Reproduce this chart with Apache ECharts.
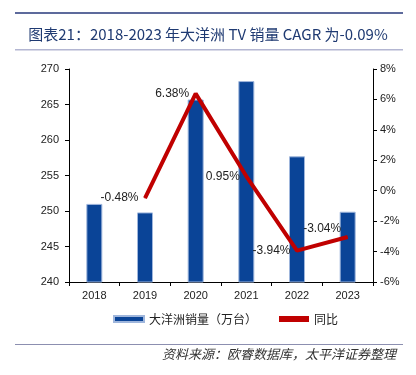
<!DOCTYPE html>
<html>
<head>
<meta charset="utf-8">
<script src="https://cdn.jsdelivr.net/npm/echarts@6/dist/echarts.min.js"></script>
<style>
  html, body { margin: 0; padding: 0; background: #fff; }
  #chart { width: 416px; height: 375px; }
</style>
</head>
<body>
<div id="chart"></div>
<script>
const years = ['2018', '2019', '2020', '2021', '2022', '2023'];
const sales = [251.0, 249.8, 265.7, 268.3, 257.7, 249.9];
const yoy = [null, -0.48, 6.38, 0.95, -3.94, -3.04];

const cjk = '"Noto Sans CJK SC", sans-serif';
const latin = '"Liberation Sans", Arial, sans-serif';

const chart = echarts.init(document.getElementById('chart'));

chart.setOption({
  animation: false,
  title: {
    text: '图表21：2018-2023 年大洋洲 TV 销量 CAGR 为-0.09%',
    left: 'center',
    top: 22,
    textStyle: { fontFamily: cjk, fontSize: 15, fontWeight: 'normal', color: '#1f3a72' }
  },
  grid: { left: 69, right: 43, top: 69, bottom: 93 },
  legend: {
    bottom: 45,
    left: 108,
    itemGap: 22,
    itemWidth: 30,
    itemHeight: 6,
    textStyle: { fontFamily: cjk, fontSize: 12, color: '#222' },
    data: [
      { name: '大洋洲销量（万台）', icon: 'rect' },
      { name: '同比', icon: 'rect', itemStyle: { color: '#c00000' } }
    ]
  },
  xAxis: {
    type: 'category',
    data: years,
    axisLine: { onZero: false, lineStyle: { color: '#000' } },
    axisTick: { show: true, inside: false, length: 4, lineStyle: { color: '#000' } },
    axisLabel: { fontFamily: latin, fontSize: 11, color: '#222', margin: 8 }
  },
  yAxis: [
    {
      type: 'value',
      min: 240, max: 270, interval: 5,
      axisLine: { show: true, lineStyle: { color: '#000' } },
      axisTick: { show: true, length: 4, lineStyle: { color: '#000' } },
      splitLine: { show: false },
      axisLabel: { fontFamily: latin, fontSize: 11, color: '#222', margin: 10 }
    },
    {
      type: 'value',
      min: -6, max: 8, interval: 2,
      position: 'right',
      axisLine: { show: true, lineStyle: { color: '#000' } },
      axisTick: { show: true, length: 4, lineStyle: { color: '#000' } },
      splitLine: { show: false },
      axisLabel: { fontFamily: latin, fontSize: 11, color: '#222', margin: 7, formatter: '{value}%' }
    }
  ],
  series: [
    {
      name: '大洋洲销量（万台）',
      type: 'bar',
      data: sales,
      barWidth: 16,
      itemStyle: { color: '#0a4497', borderColor: '#9fb6dc', borderWidth: 1 }
    },
    {
      name: '同比',
      type: 'line',
      yAxisIndex: 1,
      data: yoy,
      symbol: 'circle',
      symbolSize: 1,
      showSymbol: true,
      lineStyle: { color: '#c00000', width: 4 },
      itemStyle: { color: '#c00000' },
      label: {
        show: true,
        position: 'left',
        distance: 6,
        fontFamily: latin,
        fontSize: 12,
        color: '#222',
        formatter: p => p.value == null ? '' : p.value.toFixed(2) + '%'
      },
      labelLayout: p => p.dataIndex === 5 ? { dy: -8 } : {}
    }
  ],
  graphic: [
    { type: 'rect', shape: { x: 15, y: 12, width: 388, height: 2 }, style: { fill: '#5d6a9c' } },
    { type: 'rect', shape: { x: 15, y: 49, width: 388, height: 1.5 }, style: { fill: '#b3b6d2' } },
    { type: 'rect', shape: { x: 15, y: 344, width: 388, height: 1 }, style: { fill: '#8c8fb0' } },
    {
      type: 'text',
      right: 20,
      top: 348,
      style: {
        text: '资料来源：欧睿数据库，太平洋证券整理',
        font: 'italic 13px "Noto Sans CJK SC", sans-serif',
        fill: '#333'
      }
    }
  ]
});
</script>
</body>
</html>
